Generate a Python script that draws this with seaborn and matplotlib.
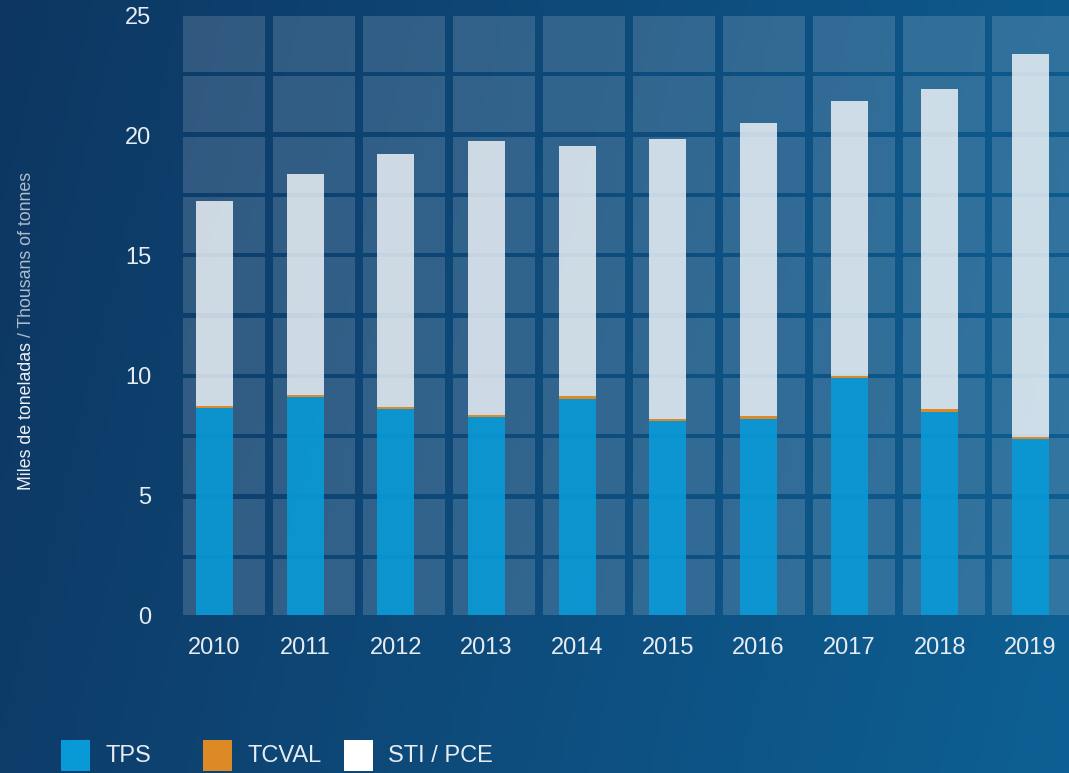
import numpy as np
import pandas as pd
import matplotlib
matplotlib.use("Agg")
import matplotlib.pyplot as plt
import seaborn as sns
from matplotlib.patches import Rectangle
from matplotlib import font_manager as fm

# ---------------- data ----------------
years = ["2010", "2011", "2012", "2013", "2014", "2015", "2016", "2017", "2018", "2019"]
tps = [8.64, 9.10, 8.60, 8.26, 9.02, 8.08, 8.19, 9.88, 8.48, 7.33]
tcval = [0.08, 0.08, 0.10, 0.08, 0.12, 0.10, 0.11, 0.10, 0.11, 0.08]
sti_pce = [8.56, 9.22, 10.54, 11.44, 10.43, 11.69, 12.23, 11.47, 13.36, 16.00]
series_names = ["TPS", "TCVAL", "STI / PCE"]
y_ticks = [0, 5, 10, 15, 20, 25]

# ---------------- style ----------------
sns.set_style("white")
names = {f.name for f in fm.fontManager.ttflist}
FONT = "Liberation Sans Narrow" if "Liberation Sans Narrow" in names else "Liberation Sans"
plt.rcParams["font.family"] = [FONT, "DejaVu Sans"]

C_TPS = "#089ad7"
C_TCVAL = "#dd8a26"
C_STI = "#f5f9fc"
TXT = "#e6ecf2"

W, H = 1069, 773
fig = plt.figure(figsize=(W / 100, H / 100), dpi=100)

# background gradient
bg = fig.add_axes([0, 0, 1, 1], zorder=-10)
bg.axis("off")
nx, ny = 256, 64
xs = np.linspace(0, 1, nx)[None, :, None]
ys = np.linspace(0, 1, ny)[:, None, None]
left = np.array([13, 54, 98]) / 255
right = np.array([14, 96, 148]) / 255
grad = left + (right - left) * (0.85 * xs + 0.15 * ys)
bg.imshow(grad, aspect="auto", extent=[0, 1, 0, 1], origin="upper")
bg.set_xlim(0, 1)
bg.set_ylim(0, 1)

# main axes
ax_l, ax_r = 183 / W, 1.0
ax_b, ax_t = 1 - 615 / H, 1 - 16 / H
ax = fig.add_axes([ax_l, ax_b, ax_r - ax_l, ax_t - ax_b])
ax.patch.set_alpha(0)
for s in ax.spines.values():
    s.set_visible(False)

pitch_px = 90.67
x0 = (183 - 214.5) / pitch_px
x1 = (1069 - 214.5) / pitch_px

# grid cells (decoration)
col_pitch = 89.94 / pitch_px
col_w = 82 / pitch_px
row_pitch = 2.518
row_h = 2.34
for i in range(10):
    for k in range(10):
        ax.add_patch(Rectangle((x0 + i * col_pitch, k * row_pitch), col_w, row_h,
                               facecolor="white", alpha=0.15, lw=0, zorder=0))

df = pd.DataFrame({"year": years, "TPS": tps, "TCVAL": tcval, "STI": sti_pce})
base2 = df["TPS"].to_numpy()
base3 = (df["TPS"] + df["TCVAL"]).to_numpy()
bw = 37 / pitch_px
sns.barplot(data=df, x="year", y="TPS", order=years, color=C_TPS, width=bw,
            errorbar=None, ax=ax, alpha=0.9, saturation=1, linewidth=0, zorder=2)
sns.barplot(data=df, x="year", y="TCVAL", order=years, color=C_TCVAL, width=bw,
            errorbar=None, ax=ax, bottom=base2, saturation=1, linewidth=0, zorder=2)
sns.barplot(data=df, x="year", y="STI", order=years, color=C_STI, width=bw,
            errorbar=None, ax=ax, bottom=base3, alpha=0.8, saturation=1, linewidth=0, zorder=2)

ax.set_xlim(x0, x1)
ax.set_ylim(0, 25)
ax.set_yticks(y_ticks)
ax.set_yticklabels([str(v) for v in y_ticks])
ax.set_xlabel("")
ax.set_ylabel("")
ax.tick_params(axis="both", length=0, labelcolor=TXT, labelsize=17)
ax.tick_params(axis="y", pad=23)
ax.tick_params(axis="x", pad=16)
ax.grid(False)

# y-axis label in two tones
t1 = fig.text(27 / W, 1 - 490 / H, "Miles de toneladas ", rotation=90, ha="center",
              va="bottom", color="#edf1f5", fontsize=12.8)
fig.canvas.draw()
bb = t1.get_window_extent()
fig.text(27 / W, bb.y1 / H, "/ Thousans of tonnes", rotation=90, ha="center",
         va="bottom", color="#aebccb", fontsize=12.8)

# legend
leg_cols = [C_TPS, C_TCVAL, "white"]
leg_x = [61, 203, 344]
for name, col, lx in zip(series_names, leg_cols, leg_x):
    fig.add_artist(Rectangle((lx / W, 1 - 771 / H), 29 / W, 31 / H, facecolor=col,
                             lw=0, transform=fig.transFigure))
    fig.text((lx + 44) / W, 1 - 756 / H, name, ha="left", va="center", color=TXT,
             fontsize=17)

fig.savefig("out.png", dpi=100)
